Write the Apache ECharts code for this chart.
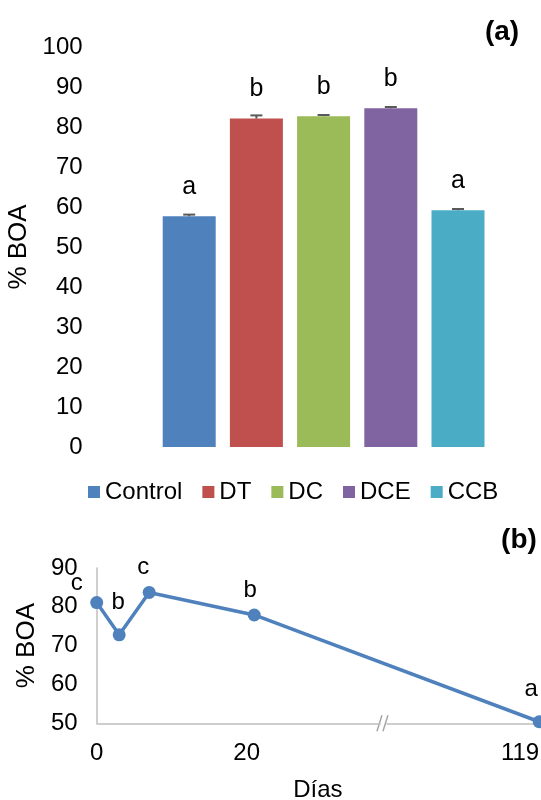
<!DOCTYPE html>
<html><head><meta charset="utf-8">
<script src="https://cdn.jsdelivr.net/npm/echarts@6/dist/echarts.min.js"></script>
<style>html,body{margin:0;padding:0;background:#fff}#c{width:541px;height:800px}</style>
</head><body><div id="c"></div>
<script>
// ---- data: panel (a)
const treatments = ['Control', 'DT', 'DC', 'DCE', 'CCB'];
const boaA = [57.7, 82.1, 82.7, 84.7, 59.2];
const errA = [0.4, 0.8, 0.3, 0.3, 0.3];
const lettersA = ['a', 'b', 'b', 'b', 'a'];
// ---- data: panel (b)
const days = [0, 3, 7, 21, 119];
const boaB = [81.1, 72.8, 83.7, 77.9, 50.4];
const lettersB = ['c', 'b', 'c', 'b', 'a'];
const xLabelsB = [0, 20, 119];

// ---- styles
const colors = ['#4F81BD', '#C0504D', '#9BBB59', '#8064A2', '#4BACC6'];
const labelOffB = [[-20, 4], [-1, -9], [-6, -2], [-4, -1], [-8, -9]];
const FONT = '"Liberation Sans", Arial, sans-serif';
const gray = '#BFBFBF';

const chart = echarts.init(document.getElementById('c'), null, {renderer: 'canvas'});

const barSeries = treatments.map((name, i) => ({
  type: 'bar', name: name, stack: 'all', xAxisIndex: 0, yAxisIndex: 0,
  barWidth: 53,
  itemStyle: {color: colors[i]},
  data: treatments.map((_, j) => j === i ? boaA[i] : '-'),
  label: {show: true, position: 'top', distance: 17, formatter: lettersA[i],
          fontFamily: FONT, fontSize: 25, color: '#000'},
  z: 2
}));

const errSeries = {
  type: 'custom', xAxisIndex: 0, yAxisIndex: 0, z: 3,
  data: treatments.map((t, i) => [i, boaA[i], errA[i]]),
  renderItem: function (params, api) {
    const x = api.value(0), v = api.value(1), e = api.value(2);
    const p0 = api.coord([x, v]);
    const p1 = api.coord([x, v + e]);
    const st = {stroke: '#595959', lineWidth: 2};
    return {type: 'group', children: [
      {type: 'line', shape: {x1: p0[0], y1: p0[1], x2: p1[0], y2: p1[1]}, style: st},
      {type: 'line', shape: {x1: p1[0] - 6, y1: p1[1], x2: p1[0] + 6, y2: p1[1]}, style: st}
    ]};
  }
};

const lineSeries = {
  type: 'line', xAxisIndex: 1, yAxisIndex: 1,
  data: days.map((d, i) => ({
    value: [d, boaB[i]],
    label: {offset: labelOffB[i], formatter: lettersB[i]}
  })),
  symbol: 'circle', symbolSize: 13,
  lineStyle: {color: '#4F81BD', width: 3.5},
  itemStyle: {color: '#4F81BD'},
  label: {show: true, position: 'top', fontFamily: FONT, fontSize: 24, color: '#000'},
  z: 3
};

chart.setOption({
  animation: false,
  backgroundColor: '#fff',
  textStyle: {fontFamily: FONT},
  grid: [
    {left: 155.6, width: 336, top: 47, height: 400, outerBoundsMode: 'none', containLabel: false},
    {left: 96.7, width: 442.5, top: 568, height: 155.3, outerBoundsMode: 'none', containLabel: false}
  ],
  legend: {
    data: treatments, left: 83, top: 475, icon: 'rect',
    itemWidth: 12, itemHeight: 12, itemGap: 20,
    textStyle: {fontFamily: FONT, fontSize: 24, color: '#000'}
  },
  xAxis: [
    {gridIndex: 0, type: 'category', data: treatments,
     axisLine: {show: false}, axisTick: {show: false}, axisLabel: {show: false}},
    {gridIndex: 1, type: 'value', min: 0, max: 119,
     breaks: [{start: 37.7, end: 98.7, gap: 1}],
     breakArea: {show: false},
     axisLine: {show: true, lineStyle: {color: gray, width: 1.5}},
     axisTick: {show: false}, splitLine: {show: false},
     axisLabel: {customValues: xLabelsB, fontFamily: FONT, fontSize: 24, color: '#000',
                 margin: 18, alignMaxLabel: 'right'},
     name: 'Días', nameLocation: 'middle', nameGap: 55,
     nameTextStyle: {fontFamily: FONT, fontSize: 24, color: '#000'}}
  ],
  yAxis: [
    {gridIndex: 0, type: 'value', min: 0, max: 100, interval: 10,
     axisLine: {show: false}, axisTick: {show: false}, splitLine: {show: false},
     axisLabel: {fontFamily: FONT, fontSize: 24, color: '#000', margin: 73},
     name: '% BOA', nameLocation: 'middle', nameGap: 114, nameRotate: 90,
     nameTextStyle: {fontFamily: FONT, fontSize: 26, color: '#000'}},
    {gridIndex: 1, type: 'value', min: 50, max: 90, interval: 10,
     axisLine: {show: true, lineStyle: {color: gray, width: 1.5}},
     axisTick: {show: false}, splitLine: {show: false},
     axisLabel: {fontFamily: FONT, fontSize: 24, color: '#000', margin: 19},
     name: '% BOA', nameLocation: 'middle', nameGap: 47, nameRotate: 90,
     nameTextStyle: {fontFamily: FONT, fontSize: 26, color: '#000'}}
  ],
  series: barSeries.concat([errSeries, lineSeries]),
  graphic: [
    {type: 'text', x: 502, y: 32, style: {text: '(a)', font: 'bold 28px ' + FONT, fill: '#000',
      textAlign: 'center', textVerticalAlign: 'middle'}},
    {type: 'text', x: 519, y: 540, style: {text: '(b)', font: 'bold 28px ' + FONT, fill: '#000',
      textAlign: 'center', textVerticalAlign: 'middle'}}
  ]
});

// axis break mark "//" at the break position
const bx = chart.convertToPixel({xAxisIndex: 1}, 37.7) + 3.5;
const by = chart.convertToPixel({yAxisIndex: 1}, 50);
chart.setOption({graphic: [
  {id: 'br1', type: 'line', shape: {x1: bx - 6, y1: by + 8, x2: bx - 1, y2: by - 8},
   style: {stroke: '#A6A6A6', lineWidth: 1.5}},
  {id: 'br2', type: 'line', shape: {x1: bx, y1: by + 8, x2: bx + 5, y2: by - 8},
   style: {stroke: '#A6A6A6', lineWidth: 1.5}}
]});
</script>
</body></html>
